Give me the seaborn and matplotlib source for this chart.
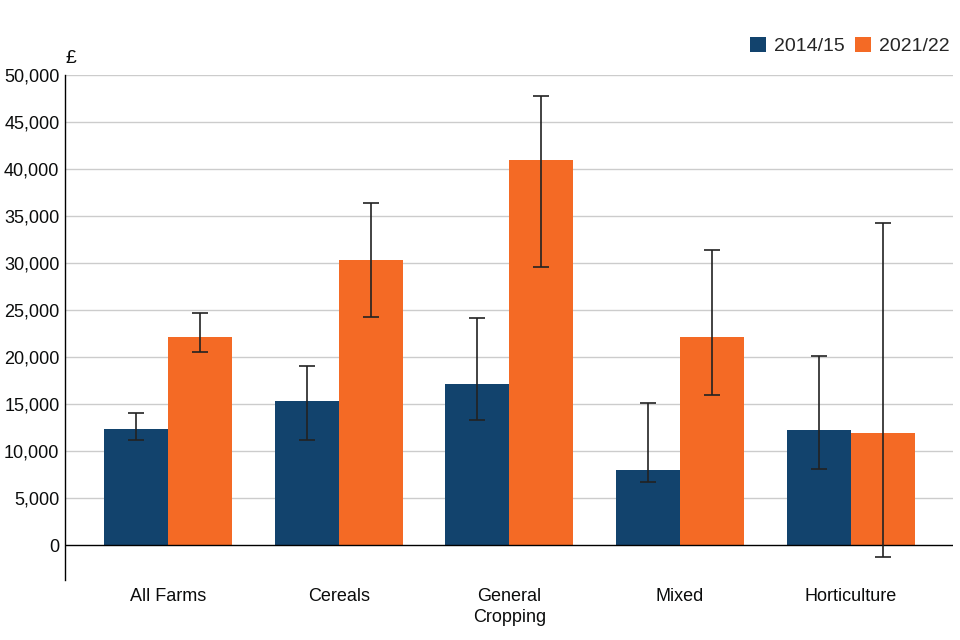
import matplotlib
matplotlib.use("Agg")
import matplotlib.pyplot as plt
import seaborn as sns
import pandas as pd
import numpy as np
from matplotlib.patches import Patch
from matplotlib.ticker import FuncFormatter

categories = ["All Farms", "Cereals", "General\nCropping", "Mixed", "Horticulture"]
years = ["2014/15", "2021/22"]
values_1415 = [12300, 15300, 17100, 8000, 12200]
low_1415 = [11200, 11200, 13300, 6700, 8100]
high_1415 = [14000, 19000, 24200, 15100, 20100]
values_2122 = [22100, 30300, 41000, 22100, 11900]
low_2122 = [20500, 24300, 29600, 16000, -1300]
high_2122 = [24700, 36400, 47800, 31400, 34300]
colors = ["#12436D", "#F46A25"]
y_ticks = list(range(0, 50001, 5000))

sns.set_style("white")
plt.rcParams["font.family"] = ["Liberation Sans", "DejaVu Sans"]

df = pd.DataFrame({
    "category": categories * 2,
    "year": [years[0]] * len(categories) + [years[1]] * len(categories),
    "value": values_1415 + values_2122,
})

fig = plt.figure(figsize=(9.6, 6.4), dpi=100)
ax = fig.add_axes([65 / 960, 60 / 640, (953 - 65) / 960, (580 - 75) / 640])

sns.barplot(data=df, x="category", y="value", hue="year", order=categories,
            hue_order=years, palette=colors, errorbar=None, width=0.75,
            linewidth=0, saturation=1, ax=ax, zorder=2)

bar_containers = list(ax.containers)
lows = [low_1415, low_2122]
highs = [high_1415, high_2122]
for i, cont in enumerate(bar_containers):
    xs = np.array([b.get_x() + b.get_width() / 2 for b in cont])
    hs = np.array([b.get_height() for b in cont])
    lo = np.array(lows[i])
    hi = np.array(highs[i])
    ax.errorbar(xs, hs, yerr=[hs - lo, hi - hs], fmt="none", ecolor="#222222",
                elinewidth=1.2, capsize=6, capthick=1.2, zorder=4)

if ax.get_legend() is not None:
    ax.get_legend().remove()

ax.set_xlim(-0.605, 4.6)
ax.set_ylim(-3720, 50000)
ax.set_yticks(y_ticks)
ax.yaxis.set_major_formatter(FuncFormatter(lambda v, p: f"{int(v):,}"))
ax.set_xlabel("")
ax.set_ylabel("")

for v in y_ticks[1:]:
    ax.axhline(v, color="#cccccc", lw=1, zorder=0)
ax.axhline(0, color="black", lw=1, zorder=3)

for s in ["top", "right", "bottom"]:
    ax.spines[s].set_visible(False)
ax.spines["left"].set_color("black")
ax.spines["left"].set_linewidth(1)

ax.tick_params(axis="both", length=0, labelsize=13, colors="#0b0c0c")
ax.tick_params(axis="y", pad=4)
ax.tick_params(axis="x", pad=6)
for lbl in ax.get_xticklabels():
    lbl.set_linespacing(1.25)

ax.text(0.0, 1.033, "£", transform=ax.transAxes, ha="left", va="center",
        fontsize=14, color="#0b0c0c")

handles = [Patch(facecolor=colors[0], edgecolor="none", label=years[0]),
           Patch(facecolor=colors[1], edgecolor="none", label=years[1])]
ax.legend(handles=handles, ncol=2, loc="center right", bbox_to_anchor=(0.996, 1.057),
          frameon=False, fontsize=14, handlelength=0.85, handleheight=0.85,
          handletextpad=0.4, columnspacing=0.5, borderaxespad=0, borderpad=0)

fig.savefig("out.png", dpi=100)
